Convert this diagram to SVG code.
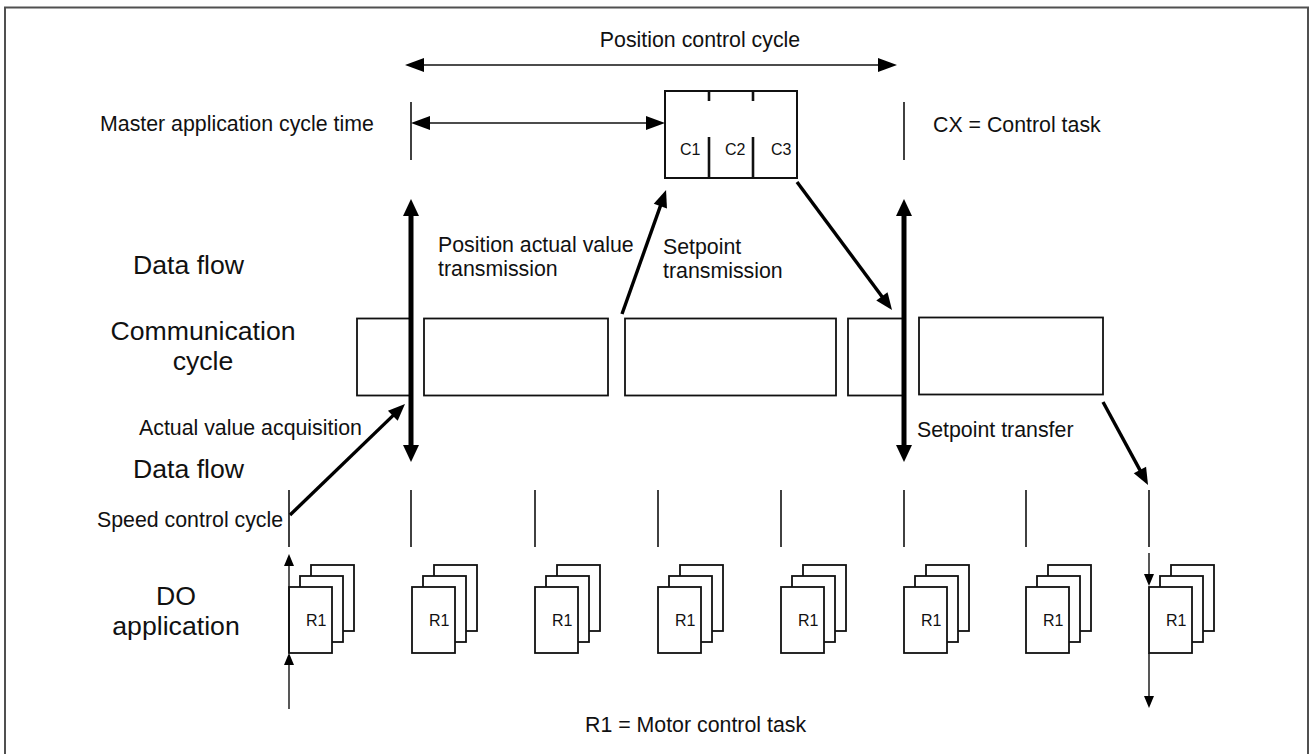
<svg xmlns="http://www.w3.org/2000/svg" width="1314" height="754" viewBox="0 0 1314 754">
<style>
text{font-family:"Liberation Sans",Arial,sans-serif;fill:#111}
.s{font-size:21.33px}
.l{font-size:26.67px}
.r{font-size:16px}
.frame{fill:none;stroke:#505050;stroke-width:2}
.box{fill:#fff;stroke:#111;stroke-width:1.8}
.tick{stroke:#111;stroke-width:1.6;fill:none}
.thin{stroke:#111;stroke-width:1.4;fill:none}
.thick{stroke:#000;stroke-width:5;fill:none}
.diag{stroke:#000;stroke-width:3.4;fill:none}
.cbox{fill:#fff;stroke:#111;stroke-width:2}
.div{stroke:#111;stroke-width:2.6}
</style>
<defs>
<marker id="ah" markerUnits="userSpaceOnUse" markerWidth="20" markerHeight="14" refX="1" refY="7" orient="auto-start-reverse" overflow="visible"><path d="M0,0 L19,7 L0,14 z" fill="#000"/></marker>
<marker id="ahb" markerUnits="userSpaceOnUse" markerWidth="18" markerHeight="16" refX="1" refY="8" orient="auto-start-reverse" overflow="visible"><path d="M0,0 L17,8 L0,16 z" fill="#000"/></marker>
<marker id="ahd" markerUnits="userSpaceOnUse" markerWidth="18" markerHeight="14" refX="1" refY="7" orient="auto-start-reverse" overflow="visible"><path d="M0,0 L17,7 L0,14 z" fill="#000"/></marker>
<marker id="ahs" markerUnits="userSpaceOnUse" markerWidth="13" markerHeight="10" refX="1" refY="5" orient="auto-start-reverse" overflow="visible"><path d="M0,0 L12,5 L0,10 z" fill="#000"/></marker>
<g id="stack">
<rect class="box" x="23" y="-22" width="43" height="66"/>
<rect class="box" x="12" y="-11" width="43" height="66"/>
<rect class="box" x="1" y="0" width="43" height="66"/>
<text class="r" x="18" y="39">R1</text>
</g>
</defs>
<rect class="frame" x="5" y="7.5" width="1303" height="800"/>

<g id="labels">
<text class="s" x="700" y="47" text-anchor="middle">Position control cycle</text>
<text class="s" x="100" y="131">Master application cycle time</text>
<text class="s" x="933" y="132">CX = Control task</text>
<text class="l" x="133" y="274">Data flow</text>
<text class="l" x="203" y="340" text-anchor="middle">Communication</text>
<text class="l" x="203" y="370" text-anchor="middle">cycle</text>
<text class="s" x="139" y="435">Actual value acquisition</text>
<text class="l" x="133" y="478">Data flow</text>
<text class="s" x="97" y="527">Speed control cycle</text>
<text class="l" x="176" y="605" text-anchor="middle">DO</text>
<text class="l" x="176" y="635" text-anchor="middle">application</text>
<text class="s" x="438" y="252">Position actual value</text>
<text class="s" x="438" y="276">transmission</text>
<text class="s" x="663" y="254">Setpoint</text>
<text class="s" x="663" y="278">transmission</text>
<text class="s" x="917" y="437">Setpoint transfer</text>
<text class="s" x="585" y="732">R1 = Motor control task</text>
</g>

<g id="control-tasks">
<rect class="cbox" x="665" y="91" width="132" height="87"/>
<line class="div" x1="709" y1="91" x2="709" y2="101"/>
<line class="div" x1="753" y1="91" x2="753" y2="101"/>
<line class="div" x1="709" y1="137" x2="709" y2="178"/>
<line class="div" x1="753" y1="137" x2="753" y2="178"/>
<text class="r" x="680" y="155">C1</text>
<text class="r" x="725" y="155">C2</text>
<text class="r" x="771" y="155">C3</text>
</g>

<g id="comm-cycle">
<rect class="box" x="357" y="318.5" width="54" height="77"/>
<rect class="box" x="424" y="318.5" width="184" height="77"/>
<rect class="box" x="625" y="318.5" width="211" height="77"/>
<rect class="box" x="848" y="318.5" width="56" height="77"/>
<rect class="box" x="919" y="317.5" width="184" height="77"/>
</g>

<g id="speed-ticks">
<line class="tick" x1="411" y1="102" x2="411" y2="160"/>
<line class="tick" x1="904" y1="102" x2="904" y2="160"/>
<line class="tick" x1="289" y1="490" x2="289" y2="547"/>
<line class="tick" x1="411" y1="490" x2="411" y2="547"/>
<line class="tick" x1="535" y1="490" x2="535" y2="547"/>
<line class="tick" x1="658" y1="490" x2="658" y2="547"/>
<line class="tick" x1="781" y1="490" x2="781" y2="547"/>
<line class="tick" x1="904" y1="490" x2="904" y2="547"/>
<line class="tick" x1="1026" y1="490" x2="1026" y2="547"/>
<line class="tick" x1="1149" y1="490" x2="1149" y2="547"/>
</g>

<g id="do-application">
<use href="#stack" x="288" y="587"/>
<use href="#stack" x="411" y="587"/>
<use href="#stack" x="534" y="587"/>
<use href="#stack" x="657" y="587"/>
<use href="#stack" x="780" y="587"/>
<use href="#stack" x="903" y="587"/>
<use href="#stack" x="1025" y="587"/>
<use href="#stack" x="1148" y="587"/>
</g>

<g id="connectors">
<line class="thin" x1="423" y1="65" x2="879" y2="65" marker-start="url(#ah)" marker-end="url(#ah)"/>
<line class="thin" x1="429" y1="123" x2="647" y2="123" marker-start="url(#ah)" marker-end="url(#ah)"/>
<line class="thick" x1="411" y1="215" x2="411" y2="446" marker-start="url(#ahb)" marker-end="url(#ahb)"/>
<line class="thick" x1="904" y1="215" x2="904" y2="446" marker-start="url(#ahb)" marker-end="url(#ahb)"/>
<line class="diag" x1="622" y1="314" x2="660.7" y2="205.1" marker-end="url(#ahd)"/>
<line class="diag" x1="797" y1="182" x2="882.5" y2="297.2" marker-end="url(#ahd)"/>
<line class="diag" x1="290" y1="515" x2="393.5" y2="415.1" marker-end="url(#ahd)"/>
<line class="diag" x1="1103" y1="402" x2="1140.4" y2="470.9" marker-end="url(#ahd)"/>
<line class="thin" x1="289" y1="709" x2="289" y2="664" marker-end="url(#ahs)"/>
<line class="thin" x1="289" y1="653" x2="289" y2="565" marker-end="url(#ahs)"/>
<line class="thin" x1="1149" y1="553" x2="1149" y2="575" marker-end="url(#ahs)"/>
<line class="thin" x1="1149" y1="653" x2="1149" y2="697" marker-end="url(#ahs)"/>
</g>
</svg>
